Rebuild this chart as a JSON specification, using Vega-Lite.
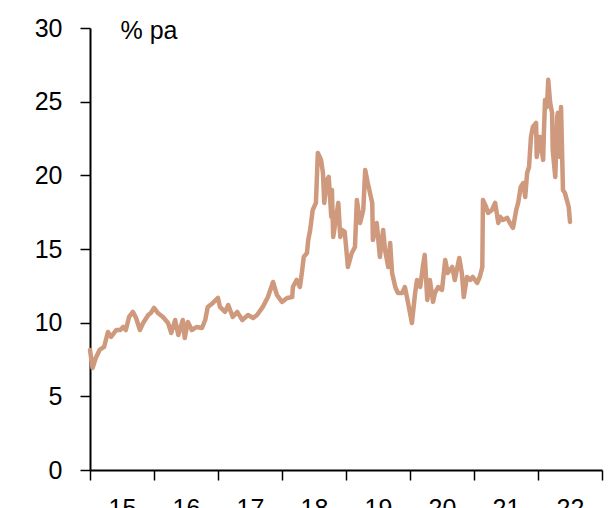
{
  "$schema": "https://vega.github.io/schema/vega-lite/v6.json",
  "width": 512,
  "height": 442,
  "autosize": {"type": "none"},
  "padding": {"left": 90, "top": 28, "right": 8, "bottom": 38},
  "background": "white",
  "config": {
    "view": {"stroke": null},
    "font": "Liberation Sans",
    "axis": {"grid": false, "domainColor": "#000000", "tickColor": "#000000", "labelColor": "#000000", "domainWidth": 2, "tickWidth": 1.5, "labelFont": "Liberation Sans", "labelFontSize": 25, "tickSize": 10}
  },
  "data": {"values": [
    {"t": 2015.0, "v": 8.15}, {"t": 2015.04, "v": 6.92}, {"t": 2015.09, "v": 7.6}, {"t": 2015.15, "v": 8.15},
    {"t": 2015.22, "v": 8.35}, {"t": 2015.28, "v": 9.37}, {"t": 2015.33, "v": 9.03}, {"t": 2015.41, "v": 9.5},
    {"t": 2015.47, "v": 9.5}, {"t": 2015.52, "v": 9.71}, {"t": 2015.56, "v": 9.5}, {"t": 2015.61, "v": 10.39},
    {"t": 2015.67, "v": 10.73}, {"t": 2015.72, "v": 10.32}, {"t": 2015.78, "v": 9.5}, {"t": 2015.83, "v": 9.98},
    {"t": 2015.91, "v": 10.52}, {"t": 2015.95, "v": 10.66}, {"t": 2016.0, "v": 11.0}, {"t": 2016.06, "v": 10.66},
    {"t": 2016.14, "v": 10.39}, {"t": 2016.22, "v": 9.98}, {"t": 2016.27, "v": 9.3}, {"t": 2016.33, "v": 10.18},
    {"t": 2016.38, "v": 9.16}, {"t": 2016.45, "v": 10.18}, {"t": 2016.48, "v": 8.96}, {"t": 2016.53, "v": 10.05},
    {"t": 2016.59, "v": 9.5}, {"t": 2016.67, "v": 9.71}, {"t": 2016.75, "v": 9.64}, {"t": 2016.8, "v": 10.18},
    {"t": 2016.84, "v": 11.07}, {"t": 2016.92, "v": 11.34}, {"t": 2017.0, "v": 11.68}, {"t": 2017.03, "v": 11.07},
    {"t": 2017.11, "v": 10.73}, {"t": 2017.16, "v": 11.2}, {"t": 2017.23, "v": 10.39}, {"t": 2017.3, "v": 10.73},
    {"t": 2017.38, "v": 10.18}, {"t": 2017.47, "v": 10.52}, {"t": 2017.55, "v": 10.32}, {"t": 2017.61, "v": 10.52},
    {"t": 2017.7, "v": 11.07}, {"t": 2017.78, "v": 11.74}, {"t": 2017.86, "v": 12.76}, {"t": 2017.92, "v": 11.88},
    {"t": 2018.0, "v": 11.41}, {"t": 2018.08, "v": 11.68}, {"t": 2018.16, "v": 11.74}, {"t": 2018.17, "v": 12.42},
    {"t": 2018.23, "v": 12.9}, {"t": 2018.28, "v": 12.42}, {"t": 2018.31, "v": 13.37}, {"t": 2018.34, "v": 14.46},
    {"t": 2018.39, "v": 14.73}, {"t": 2018.41, "v": 15.61}, {"t": 2018.44, "v": 16.29}, {"t": 2018.48, "v": 17.65},
    {"t": 2018.53, "v": 18.13}, {"t": 2018.56, "v": 21.52}, {"t": 2018.61, "v": 21.05}, {"t": 2018.64, "v": 20.16},
    {"t": 2018.66, "v": 18.13}, {"t": 2018.7, "v": 19.69}, {"t": 2018.73, "v": 19.89}, {"t": 2018.77, "v": 17.18},
    {"t": 2018.78, "v": 19.01}, {"t": 2018.8, "v": 15.82}, {"t": 2018.84, "v": 16.97}, {"t": 2018.88, "v": 18.13},
    {"t": 2018.91, "v": 15.82}, {"t": 2018.94, "v": 16.29}, {"t": 2018.98, "v": 16.16}, {"t": 2019.03, "v": 13.78},
    {"t": 2019.09, "v": 14.73}, {"t": 2019.14, "v": 15.14}, {"t": 2019.17, "v": 18.33}, {"t": 2019.22, "v": 16.77},
    {"t": 2019.27, "v": 17.65}, {"t": 2019.3, "v": 20.37}, {"t": 2019.34, "v": 19.48}, {"t": 2019.41, "v": 18.13},
    {"t": 2019.42, "v": 15.61}, {"t": 2019.48, "v": 16.77}, {"t": 2019.53, "v": 14.46}, {"t": 2019.58, "v": 16.29},
    {"t": 2019.61, "v": 14.94}, {"t": 2019.66, "v": 13.78}, {"t": 2019.69, "v": 15.41}, {"t": 2019.72, "v": 13.37},
    {"t": 2019.77, "v": 12.42}, {"t": 2019.81, "v": 12.02}, {"t": 2019.88, "v": 12.02}, {"t": 2019.92, "v": 12.42},
    {"t": 2019.97, "v": 11.34}, {"t": 2020.03, "v": 9.98}, {"t": 2020.08, "v": 12.02}, {"t": 2020.11, "v": 12.9},
    {"t": 2020.16, "v": 12.42}, {"t": 2020.2, "v": 13.78}, {"t": 2020.23, "v": 14.6}, {"t": 2020.27, "v": 11.54},
    {"t": 2020.31, "v": 12.9}, {"t": 2020.36, "v": 11.41}, {"t": 2020.39, "v": 12.02}, {"t": 2020.44, "v": 12.42},
    {"t": 2020.5, "v": 12.22}, {"t": 2020.55, "v": 14.26}, {"t": 2020.59, "v": 13.37}, {"t": 2020.66, "v": 13.78},
    {"t": 2020.7, "v": 12.9}, {"t": 2020.77, "v": 14.39}, {"t": 2020.81, "v": 13.37}, {"t": 2020.84, "v": 11.74},
    {"t": 2020.89, "v": 13.1}, {"t": 2020.94, "v": 12.9}, {"t": 2020.98, "v": 13.1}, {"t": 2021.05, "v": 12.7},
    {"t": 2021.09, "v": 13.1}, {"t": 2021.13, "v": 13.78}, {"t": 2021.14, "v": 18.33}, {"t": 2021.19, "v": 17.85},
    {"t": 2021.22, "v": 17.45}, {"t": 2021.28, "v": 17.65}, {"t": 2021.33, "v": 18.13}, {"t": 2021.38, "v": 16.77},
    {"t": 2021.41, "v": 17.18}, {"t": 2021.45, "v": 16.97}, {"t": 2021.52, "v": 17.11}, {"t": 2021.56, "v": 16.77},
    {"t": 2021.61, "v": 16.43}, {"t": 2021.66, "v": 17.65}, {"t": 2021.69, "v": 18.13}, {"t": 2021.73, "v": 19.21},
    {"t": 2021.77, "v": 19.48}, {"t": 2021.8, "v": 18.53}, {"t": 2021.83, "v": 20.16}, {"t": 2021.86, "v": 20.57},
    {"t": 2021.89, "v": 22.61}, {"t": 2021.92, "v": 23.29}, {"t": 2021.97, "v": 23.56}, {"t": 2021.98, "v": 21.25},
    {"t": 2022.03, "v": 22.61}, {"t": 2022.08, "v": 21.05}, {"t": 2022.09, "v": 22.61}, {"t": 2022.11, "v": 25.12},
    {"t": 2022.14, "v": 24.64}, {"t": 2022.16, "v": 26.48}, {"t": 2022.19, "v": 24.92}, {"t": 2022.22, "v": 24.24},
    {"t": 2022.23, "v": 21.72}, {"t": 2022.27, "v": 19.89}, {"t": 2022.3, "v": 23.96}, {"t": 2022.31, "v": 24.24},
    {"t": 2022.34, "v": 21.25}, {"t": 2022.36, "v": 24.64}, {"t": 2022.39, "v": 19.01}, {"t": 2022.42, "v": 18.81},
    {"t": 2022.45, "v": 18.33}, {"t": 2022.48, "v": 17.85}, {"t": 2022.5, "v": 16.84}
  ]},
  "mark": {"type": "line", "color": "#CF997D", "strokeWidth": 4.5, "strokeJoin": "round", "strokeCap": "round", "clip": false},
  "encoding": {
    "x": {
      "field": "t", "type": "quantitative",
      "scale": {"domain": [2015, 2023], "nice": false, "zero": false},
      "axis": {
        "title": null,
        "values": [2015, 2016, 2017, 2018, 2019, 2020, 2021, 2022, 2023],
        "labelExpr": "datum.value < 2023 ? format(datum.value - 2000, 'd') : ''",
        "labelOffset": 32,
        "labelPadding": 16,
        "labelFlush": false,
        "labelOverlap": false
      }
    },
    "y": {
      "field": "v", "type": "quantitative",
      "scale": {"domain": [0, 30], "nice": false},
      "axis": {
        "values": [0, 5, 10, 15, 20, 25, 30],
        "labelPadding": 18,
        "title": "% pa",
        "titleAngle": 0,
        "titleAlign": "left",
        "titleBaseline": "alphabetic",
        "titleX": 30,
        "titleY": 10,
        "titleFont": "Liberation Sans",
        "titleFontSize": 25,
        "titleFontWeight": "normal",
        "titleColor": "#000000"
      }
    }
  }
}
